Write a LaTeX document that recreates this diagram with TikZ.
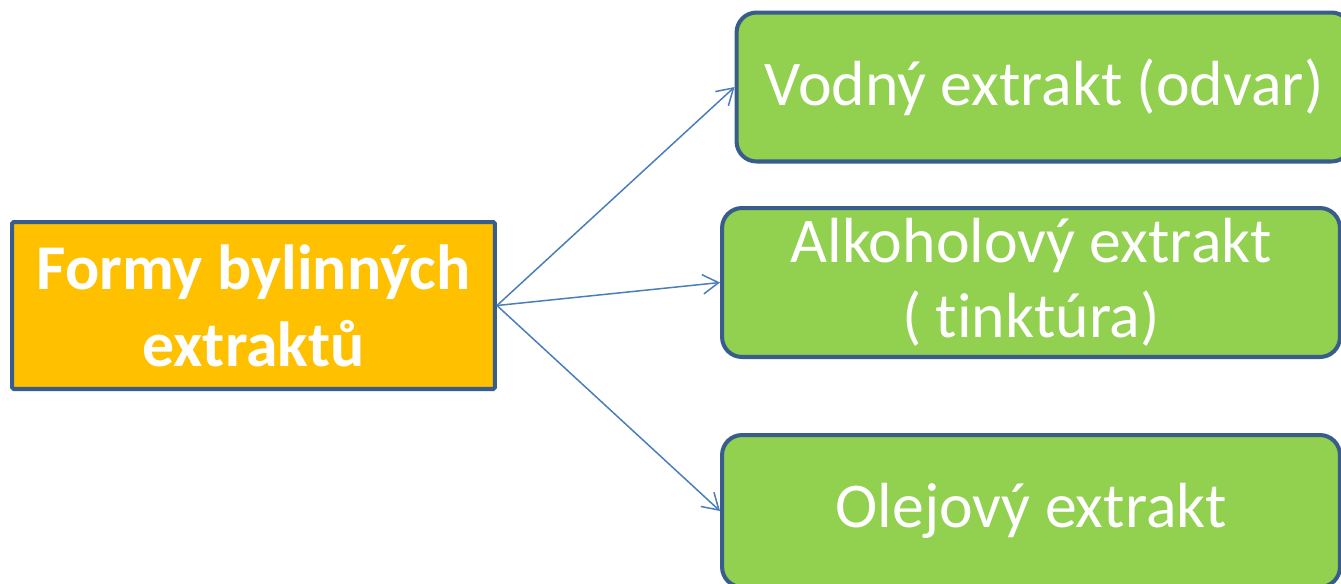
\documentclass[tikz,border=0pt]{standalone}
\usepackage{fontspec}
\setmainfont{Carlito}[Ligatures=NoCommon]
\usetikzlibrary{arrows.meta}

\definecolor{boxline}{HTML}{385D8A}
\definecolor{rootfill}{HTML}{FFC000}
\definecolor{leaffill}{HTML}{92D050}
\definecolor{linkcol}{HTML}{4A7EBB}

\begin{document}
\begin{tikzpicture}[x=0.02cm,y=-0.02cm,>={Straight Barb[length=9pt,width=11pt]},
    root/.style={draw=boxline,line width=2.3pt,fill=rootfill,rounded corners=1pt,
        minimum width=9.66cm,minimum height=3.34cm,inner sep=0pt,align=center,
        text=white,font=\fontsize{36.3}{44}\selectfont\bfseries},
    leaf/.style={draw=boxline,line width=2.3pt,fill=leaffill,rounded corners=0.4cm,
        minimum height=2.98cm,inner sep=0pt,align=center,
        text=white,font=\fontsize{36.3}{42.5}\selectfont},
    link/.style={draw=linkcol,line width=0.85pt,->}]
    \useasboundingbox (0,0) rectangle (1341,583);
    \node[root] (forms) at (253.5,305.5) {Formy bylinných\\extraktů};
    \node[leaf,minimum width=12.3cm] (water) at (1044,87) {Vodný extrakt (odvar)};
    \node[leaf,minimum width=12.36cm] (alcohol) at (1031,282.5) {Alkoholový extrakt\\( tinktúra)};
    \node[leaf,minimum width=12.36cm,minimum height=3.04cm] (oil) at (1031,511) {Olejový extrakt};
    \draw[link] (forms.east) -- (water.west);
    \draw[link] (forms.east) -- (alcohol.west);
    \draw[link] (forms.east) -- (oil.west);
\end{tikzpicture}
\end{document}
